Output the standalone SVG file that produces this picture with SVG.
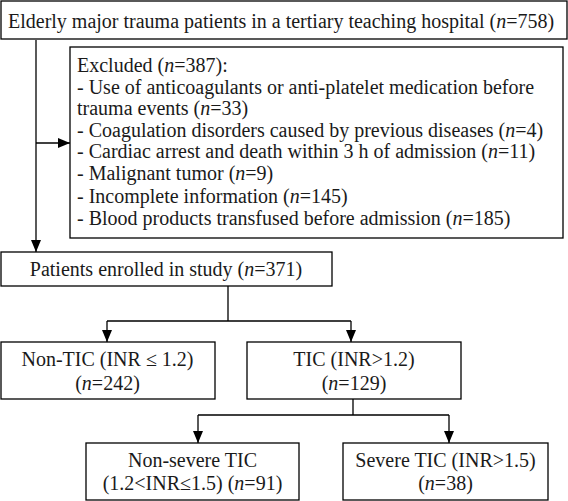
<svg xmlns="http://www.w3.org/2000/svg" width="568" height="501" viewBox="0 0 568 501">
<defs>
<marker id="ah" markerUnits="userSpaceOnUse" markerWidth="12" markerHeight="10" refX="12" refY="5" orient="auto">
<path d="M0,0 L12,5 L0,10 z" fill="#000"/>
</marker>
<style>
.box{fill:#fff;stroke:#000;stroke-width:1.3}
.ln{fill:none;stroke:#000;stroke-width:1.3}
.c{text-anchor:middle}
</style>
</defs>
<rect width="568" height="501" fill="#fff"/>
<g id="connectors" class="ln">
<path d="M36 40 V252" marker-end="url(#ah)"/>
<path d="M36 143 H70" marker-end="url(#ah)"/>
<path d="M228 286 V321 M107 321 H351"/>
<path d="M107 321 V342" marker-end="url(#ah)"/>
<path d="M351 321 V342" marker-end="url(#ah)"/>
<path d="M353 399 V415 M198 415 H449"/>
<path d="M198 415 V443" marker-end="url(#ah)"/>
<path d="M449 415 V443" marker-end="url(#ah)"/>
</g>
<g font-family="Liberation Serif, serif" font-size="20" fill="#1a1a1a">
<g id="n-elderly">
<rect class="box" x="1" y="1" width="566" height="38"/>
<text x="8" y="28">Elderly major trauma patients in a tertiary teaching hospital (<tspan font-style="italic">n</tspan>=758)</text>
</g>
<g id="n-excluded">
<rect class="box" x="70" y="47" width="493" height="191"/>
<text x="77" y="72">Excluded (<tspan font-style="italic">n</tspan>=387):</text>
<text x="77" y="93.5">- Use of anticoagulants or anti-platelet medication before</text>
<text x="77" y="115">trauma events (<tspan font-style="italic">n</tspan>=33)</text>
<text x="77" y="136.5">- Coagulation disorders caused by previous diseases (<tspan font-style="italic">n</tspan>=4)</text>
<text x="77" y="158">- Cardiac arrest and death within 3 h of admission (<tspan font-style="italic">n</tspan>=11)</text>
<text x="77" y="180">- Malignant tumor (<tspan font-style="italic">n</tspan>=9)</text>
<text x="77" y="203">- Incomplete information (<tspan font-style="italic">n</tspan>=145)</text>
<text x="77" y="225">- Blood products transfused before admission (<tspan font-style="italic">n</tspan>=185)</text>
</g>
<g id="n-enrolled">
<rect class="box" x="1" y="252" width="331" height="34"/>
<text class="c" x="166" y="276">Patients enrolled in study (<tspan font-style="italic">n</tspan>=371)</text>
</g>
<g id="n-nontic">
<rect class="box" x="1" y="342" width="214" height="57"/>
<text class="c" x="107.5" y="366">Non-TIC (INR ≤ 1.2)</text>
<text class="c" x="107.5" y="390">(<tspan font-style="italic">n</tspan>=242)</text>
</g>
<g id="n-tic">
<rect class="box" x="247" y="342" width="214" height="57"/>
<text class="c" x="354" y="366">TIC (INR&gt;1.2)</text>
<text class="c" x="354" y="390">(<tspan font-style="italic">n</tspan>=129)</text>
</g>
<g id="n-nonsevere">
<rect class="box" x="86" y="443" width="213" height="57"/>
<text class="c" x="192.5" y="467">Non-severe TIC</text>
<text class="c" x="192.5" y="490">(1.2&lt;INR≤1.5) (<tspan font-style="italic">n</tspan>=91)</text>
</g>
<g id="n-severe">
<rect class="box" x="343" y="443" width="205" height="57"/>
<text class="c" x="445.5" y="467">Severe TIC (INR&gt;1.5)</text>
<text class="c" x="445.5" y="490">(<tspan font-style="italic">n</tspan>=38)</text>
</g>
</g>
</svg>
